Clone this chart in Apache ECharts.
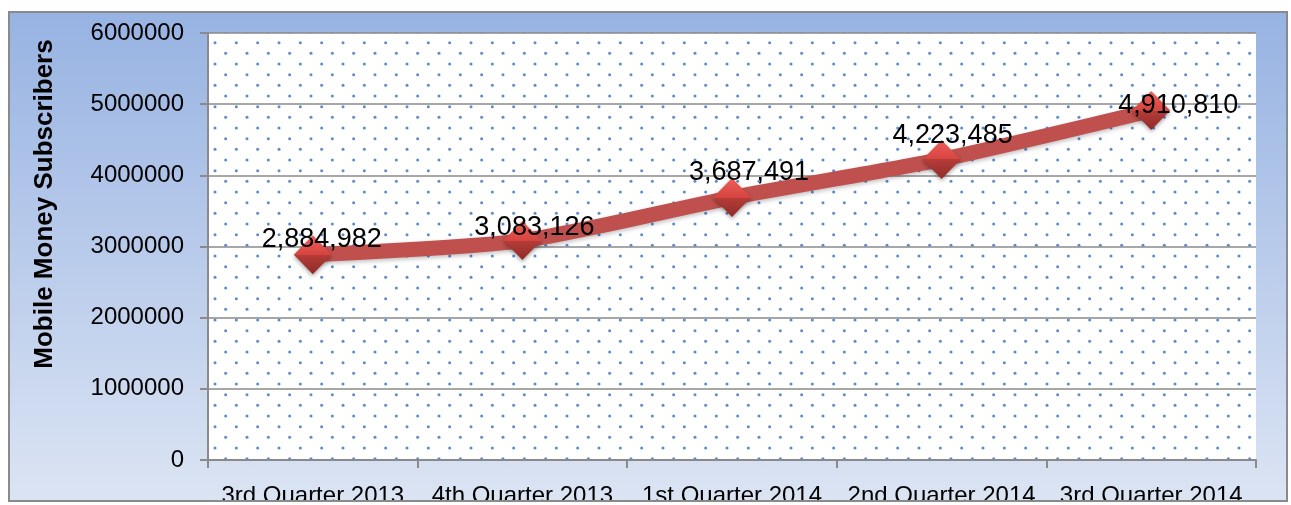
<!DOCTYPE html>
<html>
<head>
<meta charset="utf-8">
<script src="https://cdn.jsdelivr.net/npm/echarts@6/dist/echarts.min.js"></script>
<style>
  html, body { margin: 0; padding: 0; background: #fff; }
  #frame {
    position: absolute; left: 8px; top: 11px;
    width: 1276px; height: 487px;
    border: 2px solid #8a8a8a;
    background: linear-gradient(to bottom, #97b3e2 0%, #b6c9ea 45%, #dbe4f3 100%);
    overflow: hidden;
  }
  #chart { width: 1276px; height: 487px; }
</style>
</head>
<body>
<div id="frame"><div id="chart"></div></div>
<script>
var categories = ['3rd Quarter 2013', '4th Quarter 2013', '1st Quarter 2014', '2nd Quarter 2014', '3rd Quarter 2014'];
var subscribers = [2884982, 3083126, 3687491, 4223485, 4910810];
var yTicks = [0, 1000000, 2000000, 3000000, 4000000, 5000000, 6000000];
// label nudges, as placed in the original
var labelOffsets = [[9, -15], [12, -13], [17, -25], [11, -24], [27, -5]];

// dotted fill for the plot area
function dotTile(){
    var c = document.createElement('canvas');
    c.width = 64; c.height = 64;
    var ctx = c.getContext('2d');
    ctx.fillStyle = '#fff';
    ctx.fillRect(0, 0, 64, 64);
    ctx.fillStyle = '#5a8ad0';
    for (var r = 0; r < 6; r++) {
        var y = 8.3 + r * 64 / 6;
        var x0 = r % 2 === 0 ? 13 : 2.33;
        for (var k = 0; k < 3; k++) {
            var x = (x0 + k * 64 / 3) % 64;
            ctx.beginPath();
            ctx.arc(x, y, 1.5, 0, Math.PI * 2);
            ctx.fill();
        }
    }
    return c;
}

function fmt(v){
    return v.toString().replace(/\B(?=(\d{3})+(?!\d))/g, ',');
}

var myChart = echarts.init(document.getElementById('chart'));
var font = '"Liberation Sans", Arial, sans-serif';

var option = {
    backgroundColor: 'transparent',
    animation: false,
    textStyle: { fontFamily: font },
    grid: {
        left: 198, top: 20, width: 1048, height: 427,
        outerBoundsMode: 'none',
        containLabel: false,
        show: true,
        borderWidth: 0,
        backgroundColor: { image: dotTile(), repeat: 'repeat' }
    },
    graphic: [{
        type: 'text',
        x: 35, y: 191,
        rotation: Math.PI / 2,
        style: {
            text: 'Mobile Money Subscribers',
            font: 'bold 26px ' + font,
            fill: '#000',
            align: 'center',
            verticalAlign: 'middle'
        }
    }],
    xAxis: {
        type: 'category',
        data: categories,
        boundaryGap: true,
        axisLine: { lineStyle: { color: '#8a8a8a', width: 2 } },
        axisTick: { show: true, length: 8, lineStyle: { color: '#8a8a8a', width: 2 } },
        axisLabel: { color: '#000', fontSize: 24, margin: 24, interval: 0 }
    },
    yAxis: {
        type: 'value',
        min: yTicks[0],
        max: yTicks[yTicks.length - 1],
        interval: yTicks[1] - yTicks[0],
        axisLine: { show: true, lineStyle: { color: '#8a8a8a', width: 2 } },
        axisTick: { show: true, length: 8, lineStyle: { color: '#8a8a8a', width: 2 } },
        axisLabel: { color: '#000', fontSize: 24, margin: 24, formatter: function(v){ return String(v); } },
        splitLine: { show: true, lineStyle: { color: '#8a8a8a', width: 1.5 } }
    },
    series: [{
        type: 'line',
        smooth: 0.25,
        data: subscribers.map(function(v, i){
            return { value: v, label: { offset: labelOffsets[i] } };
        }),
        lineStyle: {
            color: '#c0504d', width: 15,
            shadowColor: 'rgba(0,0,0,0.25)', shadowBlur: 4, shadowOffsetY: 2
        },
        symbol: 'diamond',
        symbolSize: [38, 39],
        itemStyle: {
            color: new echarts.graphic.LinearGradient(0, 0, 0, 1, [
                { offset: 0, color: '#ee5f5a' },
                { offset: 0.5, color: '#d6443f' },
                { offset: 0.5, color: '#b63c38' },
                { offset: 1, color: '#8e2c29' }
            ]),
            shadowColor: 'rgba(0,0,0,0.35)', shadowBlur: 4, shadowOffsetY: 2
        },
        label: {
            show: true,
            position: 'inside',
            color: '#000',
            fontSize: 27,
            formatter: function(p){ return fmt(p.value); }
        }
    }]
};
myChart.setOption(option);
</script>
</body>
</html>
